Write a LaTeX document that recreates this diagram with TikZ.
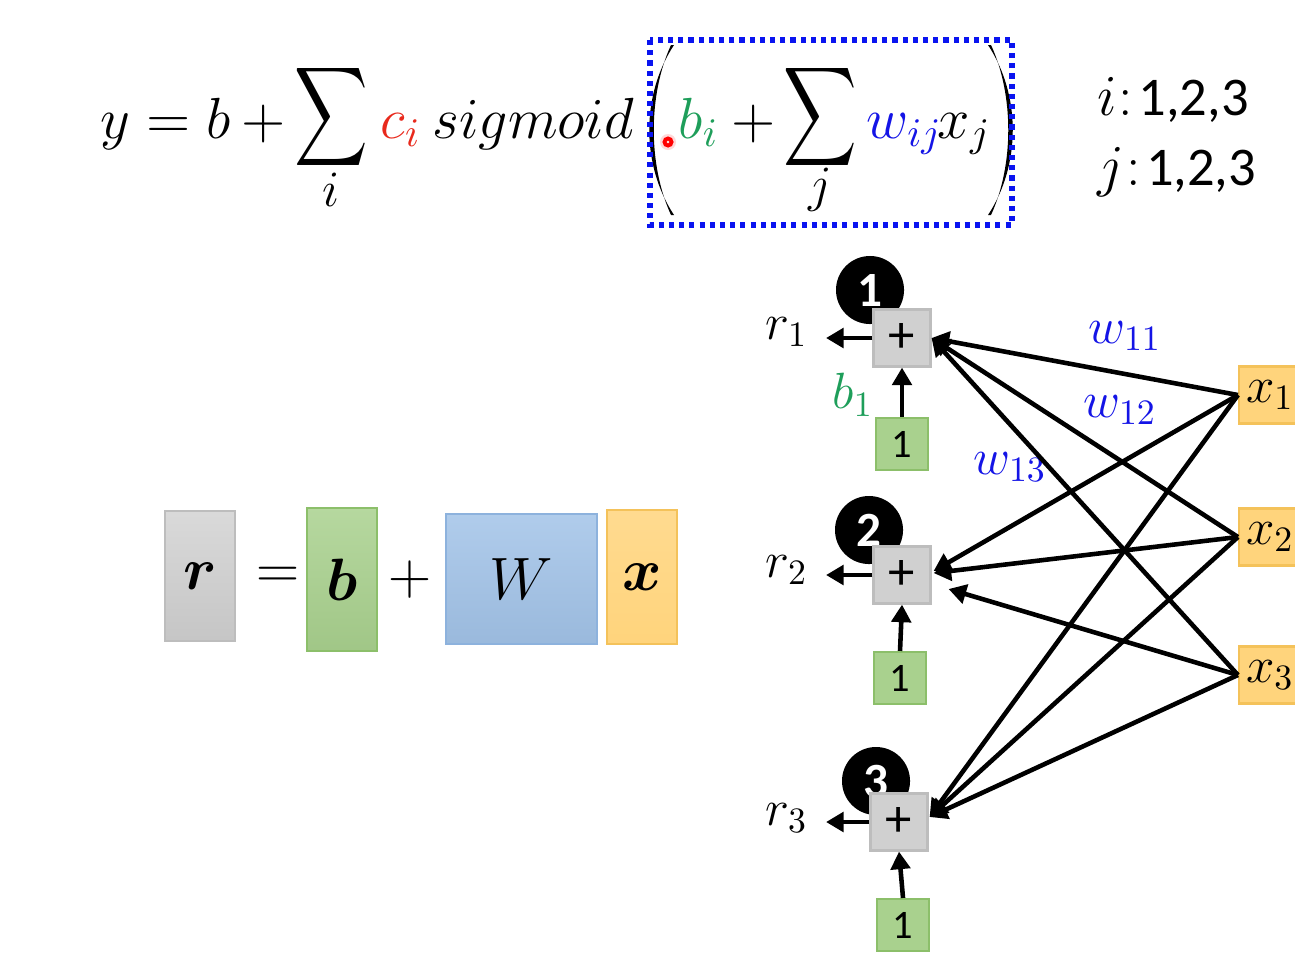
\RequirePackage{fix-cm}
\documentclass[tikz,border=0pt]{standalone}
\usepackage{fontspec}
\usepackage{amsmath,bm,graphicx}
\usetikzlibrary{arrows.meta,calc}
\newfontfamily\carl{Carlito}
\definecolor{cred}{HTML}{E8291C}
\definecolor{cgreen}{HTML}{1E9E5A}
\definecolor{cblue}{HTML}{1414E6}
\definecolor{dotblue}{HTML}{0A14F0}
\definecolor{gfill}{HTML}{A9D18E}
\definecolor{gline}{HTML}{8CBF6A}
\definecolor{grfill}{HTML}{D0D0D0}
\definecolor{grline}{HTML}{BDBDBD}
\definecolor{ofill}{HTML}{FFD47C}
\definecolor{oline}{HTML}{F4C25A}
\definecolor{bfill}{HTML}{A2C3E8}
\definecolor{bline}{HTML}{8DB2DD}
\tikzset{
  big/.style={inner sep=0pt, font=\fontsize{16.5}{20}\selectfont},
  lab/.style={inner sep=0pt, font=\fontsize{14.5}{17}\selectfont},
  plusbox/.style={draw=grline, fill=grfill, line width=0.6pt, minimum size=0.57cm, inner sep=0pt, font=\carl\fontsize{15}{15}\selectfont},
  onebox/.style={draw=gline, fill=gfill, line width=0.6pt, minimum size=0.52cm, inner sep=0pt, font=\carl\fontsize{11.5}{12}\selectfont},
  xbox/.style={draw=oline, fill=ofill, line width=0.6pt, minimum width=0.62cm, minimum height=0.57cm, inner sep=0pt, font=\fontsize{14.5}{17}\selectfont},
  numc/.style={circle, fill=black, minimum size=0.68cm, inner sep=0pt, text=white, font=\carl\bfseries\fontsize{14}{14}\selectfont},
  arr/.style={line width=1.3pt, -{Triangle[length=5pt,width=5.5pt]}},
  vecbox/.style={line width=0.6pt, inner sep=0pt, font=\fontsize{17}{20}\selectfont},
  sig/.style={inner sep=0pt, font=\fontsize{16.5}{20}\selectfont}
}
\begin{document}
\begin{tikzpicture}[x=0.01cm, y=-0.01cm]
\useasboundingbox (0,0) rectangle (1295,966);
% ---------- top equation ----------
\node[big, anchor=base west] (e1) at (100,138) {$y = b$};
\node[big, anchor=base] (e2) at (264,138) {$+$};
\node[sig] (s1) at (331,117) {\scalebox{0.84}[1.14]{$\displaystyle\sum$}};
\node[lab] (si) at (331,190) {$i$};
\node[big, anchor=base west] (ci) at (380,138) {$\color{cred}c_i$};
\node[big, anchor=base west] (sg) at (432,138) {$sigmoid$};
\fill (674,45) .. controls (641,95) and (641,165) .. (674,215)
      -- (671,215) .. controls (648,165) and (648,95) .. (671,45) -- cycle;
\fill (988,45) .. controls (1021,95) and (1021,165) .. (988,215)
      -- (991,215) .. controls (1014,165) and (1014,95) .. (991,45) -- cycle;
\node[big, anchor=base west] (bi) at (678,138) {$\color{cgreen}b_i$};
\node[big, anchor=base] (p0) at (754,138) {$+$};
\node[sig] (s2) at (820,117) {\scalebox{0.84}[1.14]{$\displaystyle\sum$}};
\node[lab] (sj) at (820,190) {$j$};
\node[big, anchor=base west] (wij) at (866,138) {$\color{cblue}w_{ij}$};
\node[big, anchor=base west] (xj) at (937,138) {$x_j$};
\draw[dotblue, line width=1.45pt, dash pattern=on 1.45pt off 1.45pt] (650,40) rectangle (1012,225);
% laser pointer dot
\fill[red!25, opacity=0.6] (668,142) circle (8);
\draw[red, line width=1.1pt] (668,142) circle (3.5);
\node[big, anchor=base west] (ri) at (1097,115) {$i$\kern0.5pt:\kern1.5pt{\carl\fontsize{15.5}{18}\selectfont 1,2,3}};
\node[big, anchor=base west] (rj) at (1097,185) {$j$\kern0.5pt:\kern1.5pt{\carl\fontsize{15.5}{18}\selectfont 1,2,3}};
% ---------- left vector equation ----------
\node[vecbox, draw=grline, top color=grfill!80!white, bottom color=grfill!95!black, minimum width=0.70cm, minimum height=1.30cm] (R) at (200,576) {$\bm{r}$};
\node[vecbox] (eq) at (278,578) {$=$};
\node[vecbox, draw=gline, top color=gfill!85!white, bottom color=gfill!95!black, minimum width=0.70cm, minimum height=1.43cm] (B) at (342,579.5) {$\bm{b}$};
\node[vecbox] (pl) at (410,580) {$+$};
\node[vecbox, draw=bline, top color=bfill!85!white, bottom color=bfill!95!black, minimum width=1.51cm, minimum height=1.30cm] (Wm) at (521.5,579) {$W$};
\node[vecbox, draw=oline, top color=ofill!85!white, bottom color=ofill, minimum width=0.70cm, minimum height=1.34cm] (X) at (642,577) {$\bm{x}$};
% ---------- network ----------
\node[numc] (c1) at (870,290) {1};
\node[numc] (c2) at (869,530) {2};
\node[numc] (c3) at (876,781) {3};
\node[plusbox] (p1) at (902,338) {+};
\node[plusbox] (p2) at (902,575) {+};
\node[plusbox] (p3) at (899,822) {+};
\node[onebox] (g1) at (902,444) {1};
\node[onebox] (g2) at (900,678) {1};
\node[onebox] (g3) at (903,925) {1};
\node[xbox] (x1) at (1270,395) {$x_1$};
\node[xbox] (x2) at (1270,537) {$x_2$};
\node[xbox] (x3) at (1270,675) {$x_3$};
\node[lab, anchor=east, inner xsep=5pt] (r1) at (826,332) {$r_1$};
\node[lab, anchor=east, inner xsep=5pt] (r2) at (826,570) {$r_2$};
\node[lab, anchor=east, inner xsep=5pt] (r3) at (826,818) {$r_3$};
\node[lab] (b1) at (853,395) {$\color{cgreen}b_1$};
\node[lab] (w11) at (1125,336) {$\color{cblue}w_{11}$};
\node[lab] (w12) at (1120,410) {$\color{cblue}w_{12}$};
\node[lab] (w13) at (1010,467) {$\color{cblue}w_{13}$};
\coordinate (q2) at ($(p2.east)+(17,14)$);
\draw[arr] (p1.west) -- (p1.west -| r1.east);
\draw[arr] (p2.west) -- (p2.west -| r2.east);
\draw[arr] (p3.west) -- (p3.west -| r3.east);
\draw[arr] (g1.north) -- (p1.south);
\draw[arr] (g2.north) -- (p2.south);
\draw[arr] (g3.north) -- (p3.south);
\draw[arr] (x1.west) -- (p1.east);
\draw[arr] (x2.west) -- (p1.east);
\draw[arr] (x3.west) -- (p1.east);
\draw[arr] (x1.west) -- ($(p2.east)+(2,-4)$);
\draw[arr] (x2.west) -- ($(p2.east)+(2,-2)$);
\draw[arr] (x3.west) -- (q2);
\draw[arr] (x1.west) -- ($(p3.east)+(1,-5)$);
\draw[arr] (x2.west) -- ($(p3.east)+(1,-5)$);
\draw[arr] (x3.west) -- ($(p3.east)+(1,-5)$);
\end{tikzpicture}
\end{document}
